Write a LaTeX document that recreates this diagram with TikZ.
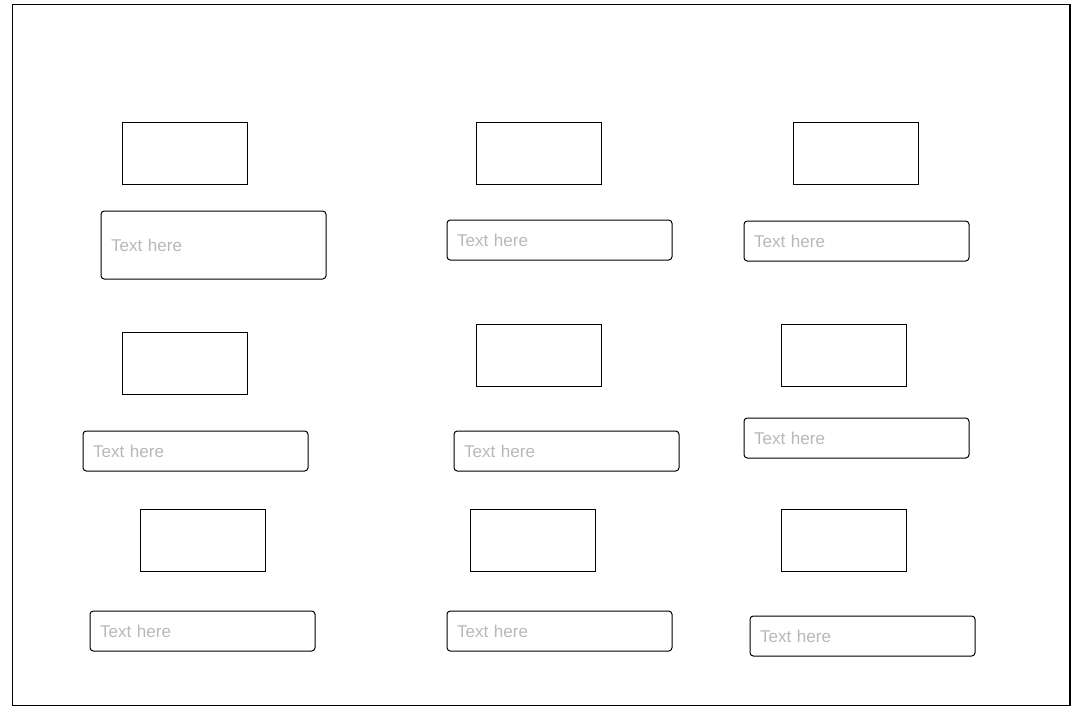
\documentclass[tikz,border=0pt]{standalone}
\usepackage{fontspec}
\setmainfont{Liberation Sans}
\definecolor{hintgray}{HTML}{B8B8B8}
\tikzset{
  pic/.style={draw,line width=0.75pt,minimum width=93.75pt,minimum height=46.5pt,inner sep=0pt,anchor=north west},
  field/.style={draw,line width=0.75pt,rounded corners=2.5pt,text width=153.75pt,inner xsep=7.5pt,inner ysep=0pt,minimum height=30pt,align=left,anchor=north west,text=hintgray,font=\fontsize{12.8pt}{15pt}\selectfont}
}
\begin{document}
\begin{tikzpicture}[x=0.75pt,y=-0.75pt] % grid of image boxes with captions
  \useasboundingbox (0,0) rectangle (1072,707);
  \draw[line width=0.8pt] (12.5,4.5) rectangle (1070,705.5);
  % first row
  \node[pic] (p11) at (121.5,121.5) {};
  \node[pic] (p12) at (475.5,121.5) {};
  \node[pic] (p13) at (792.5,121.5) {};
  \node[field,minimum height=51pt] (f11) at (100.5,210.5) {Text here};
  \node[field] (f12) at (446.5,219.5) {Text here};
  \node[field] (f13) at (743.5,220.5) {Text here};
  % second row
  \node[pic] (p21) at (121.5,331.5) {};
  \node[pic] (p22) at (475.5,323.5) {};
  \node[pic] (p23) at (780.5,323.5) {};
  \node[field] (f21) at (82.5,430.5) {Text here};
  \node[field] (f22) at (453.5,430.5) {Text here};
  \node[field] (f23) at (743.5,417.5) {Text here};
  % third row
  \node[pic] (p31) at (139.5,509) {};
  \node[pic] (p32) at (469.5,509) {};
  \node[pic] (p33) at (780.5,509) {};
  \node[field] (f31) at (89.5,610.5) {Text here};
  \node[field] (f32) at (446.5,610.5) {Text here};
  \node[field] (f33) at (749.5,615.5) {Text here};
\end{tikzpicture}
\end{document}
